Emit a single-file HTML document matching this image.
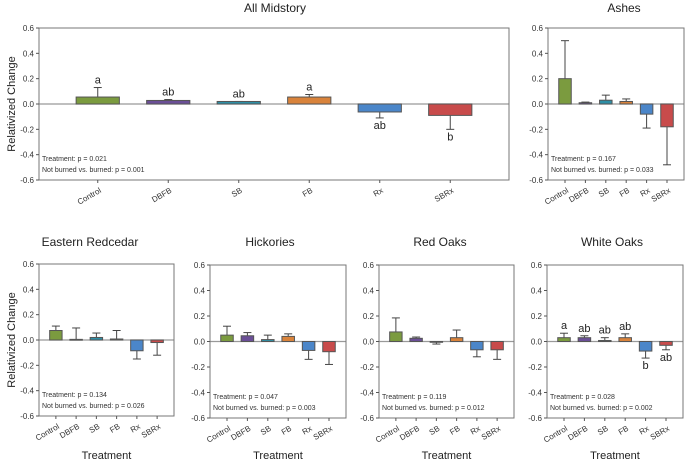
<!DOCTYPE html>
<html><head><meta charset="utf-8"><style>
body{margin:0;background:#fff}
svg{display:block;font-family:"Liberation Sans",Arial,sans-serif}
</style></head><body>
<svg id="c" width="685" height="462"></svg>
<script>
const categories=["Control","DBFB","SB","FB","Rx","SBRx"];
const colors=["#7b9b3f","#6b4f97","#2e8fa6","#d9833b","#4b86c9","#c84b4b"];
const ticks=[0.6,0.4,0.2,0.0,-0.2,-0.4,-0.6];
const tickLabels=["0.6","0.4","0.2","0.0","-0.2","-0.4","-0.6"];
const midVals=[0.055,0.028,0.02,0.055,-0.063,-0.09];
const midErr=[0.13,0.035,0.02,0.075,-0.11,-0.20];
const midLetters=["a","ab","ab","a","ab","b"];
const ashVals=[0.2,0.01,0.03,0.02,-0.08,-0.18];
const ashErr=[0.5,0.015,0.07,0.04,-0.19,-0.48];
const redcedarVals=[0.075,0.005,0.02,0.008,-0.085,-0.02];
const redcedarErr=[0.11,0.095,0.055,0.075,-0.15,-0.12];
const hickVals=[0.05,0.045,0.015,0.04,-0.07,-0.08];
const hickErr=[0.12,0.07,0.05,0.06,-0.14,-0.18];
const redOakVals=[0.075,0.025,0.0,0.03,-0.065,-0.065];
const redOakErr=[0.185,0.035,-0.02,0.09,-0.12,-0.14];
const whiteOakVals=[0.03,0.03,0.008,0.03,-0.075,-0.03];
const whiteOakErr=[0.065,0.045,0.03,0.06,-0.13,-0.065];
const whiteOakLetters=["a","ab","ab","ab","b","ab"];

const svg=document.getElementById('c');
const NS="http://www.w3.org/2000/svg";
function mk(tag,attrs,parent,text){const e=document.createElementNS(NS,tag);for(const k in attrs)e.setAttribute(k,attrs[k]);if(text!==undefined)e.textContent=text;(parent||svg).appendChild(e);return e;}

function panel(p){
  const g=mk('g',{});
  
  
  const yS=v=>p.y0+(0.6-v)/1.2*(p.y1-p.y0);
  const W=p.x1-p.x0;
  const xC=i=>p.x0+W*(0.125+0.15*i);
  const bw=W*0.092;
  const t=mk('text',{x:p.tx,y:p.ty,'text-anchor':'middle','font-size':12,fill:'#222'},g,p.title);
  
  
  mk('line',{x1:p.x0,x2:p.x1,y1:yS(0),y2:yS(0),stroke:'#999','stroke-width':1.2},g);
  mk('rect',{x:p.x0,y:p.y0,width:W,height:p.y1-p.y0,fill:'none',stroke:'#777','stroke-width':1},g);
  ticks.forEach((v,i)=>{
    mk('line',{x1:p.x0-3,x2:p.x0,y1:yS(v),y2:yS(v),stroke:'#555'},g);
    const tl=mk('text',{x:p.x0-5,y:yS(v)+3,'text-anchor':'end','font-size':8,fill:'#333'},g,tickLabels[i]);
    
    
  });
  categories.forEach((c,i)=>{
    const cx=xC(i),v=p.vals[i],e=p.err[i];
    mk('line',{x1:cx,x2:cx,y1:p.y1,y2:p.y1+3,stroke:'#555'},g);
    mk('line',{x1:cx,x2:cx,y1:yS(v),y2:yS(e),stroke:'#444'},g);
    mk('line',{x1:cx-4,x2:cx+4,y1:yS(e),y2:yS(e),stroke:'#444'},g);
    const r=mk('rect',{x:cx-bw/2,y:Math.min(yS(v),yS(0)),width:bw,height:Math.max(Math.abs(yS(v)-yS(0)),0.8),fill:colors[i],stroke:'#555','stroke-width':1},g);
    
    
    const lx=cx+4,ly=p.y1+12;
    const cl=mk('text',{x:lx,y:ly,'text-anchor':'end','font-size':8,fill:'#333',transform:`rotate(-30 ${lx} ${ly})`},g,c);
    
    
    if(p.letters){
      const up=e>=v&&v>=0;
      const ly2=up?yS(Math.max(e,v))-4:yS(Math.min(e,v))+11;
      const lt=mk('text',{x:cx,y:ly2,'text-anchor':'middle','font-size':11,fill:'#222'},g,p.letters[i]);
      
      
    }
  });
  const s1=mk('text',{x:p.x0+3,y:p.y1-19,'font-size':7,fill:'#333'},g,p.s1);
  
  
  const s2=mk('text',{x:p.x0+3,y:p.y1-8,'font-size':7,fill:'#333'},g,p.s2);
  
  
  if(p.ylab){
    const cy=(p.y0+p.y1)/2;
    const yl=mk('text',{x:15,y:cy,'text-anchor':'middle','font-size':11,fill:'#222',transform:`rotate(-90 15 ${cy})`},g,'Relativized Change');
    
    
  }
  if(p.xlab){
    const xl=mk('text',{x:(p.x0+p.x1)/2,y:459,'text-anchor':'middle','font-size':11,fill:'#222'},g,'Treatment');
    
    
  }
}
panel({name:'all-midstory-panel',title:'All Midstory',tx:275,ty:12,x0:39,x1:509,y0:28,y1:180,vals:midVals,err:midErr,letters:midLetters,s1:'Treatment: p = 0.021',s2:'Not burned vs. burned: p = 0.001',ylab:true});
panel({name:'ashes-panel',title:'Ashes',tx:624,ty:12,x0:548,x1:684,y0:28,y1:180,vals:ashVals,err:ashErr,s1:'Treatment: p = 0.167',s2:'Not burned vs. burned: p = 0.033'});
panel({name:'eastern-redcedar-panel',title:'Eastern Redcedar',tx:90,ty:246,x0:39,x1:174,y0:264,y1:416,vals:redcedarVals,err:redcedarErr,s1:'Treatment: p = 0.134',s2:'Not burned vs. burned: p = 0.026',ylab:true,xlab:true});
panel({name:'hickories-panel',title:'Hickories',tx:270,ty:246,x0:210,x1:346,y0:265,y1:418,vals:hickVals,err:hickErr,s1:'Treatment: p = 0.047',s2:'Not burned vs. burned: p = 0.003',xlab:true});
panel({name:'red-oaks-panel',title:'Red Oaks',tx:440,ty:246,x0:379,x1:514,y0:265,y1:418,vals:redOakVals,err:redOakErr,s1:'Treatment: p = 0.119',s2:'Not burned vs. burned: p = 0.012',xlab:true});
panel({name:'white-oaks-panel',title:'White Oaks',tx:612,ty:246,x0:547,x1:683,y0:265,y1:418,vals:whiteOakVals,err:whiteOakErr,letters:whiteOakLetters,s1:'Treatment: p = 0.028',s2:'Not burned vs. burned: p = 0.002',xlab:true});
</script>
</body></html>
